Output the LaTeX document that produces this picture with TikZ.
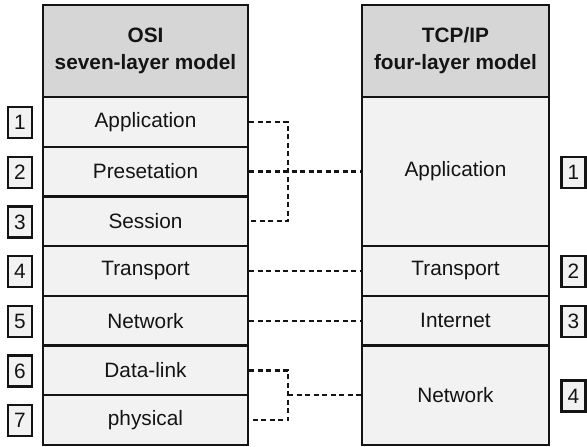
\documentclass[tikz,border=0pt]{standalone}
\usepackage{fontspec}
\setmainfont{Liberation Sans}
\definecolor{hdrgray}{RGB}{214,214,214}
\definecolor{rowfill}{RGB}{241,242,241}
\definecolor{inkc}{RGB}{20,20,20}
\begin{document}
\begin{tikzpicture}[x=1pt,y=-1pt,
  box/.style={draw=inkc, line width=2.3pt, fill=rowfill, inner sep=0pt,
    font=\fontsize{20.8}{27}\selectfont, text=inkc},
  lcol/.style={box, minimum width=205pt},
  rcol/.style={box, minimum width=187pt},
  hdr/.style={fill=hdrgray, font=\fontsize{20.8}{27}\selectfont\bfseries, align=center},
  numbox/.style={box, minimum width=24pt, minimum height=31pt},
  conn/.style={draw=inkc, line width=2.3pt, dash pattern=on 5pt off 3.5pt}
]
\useasboundingbox (0,0) rectangle (587,447);
% left column
\node[lcol, hdr, minimum height=92pt] (LH) at (145.5,51) {OSI\\seven-layer model};
\node[lcol, minimum height=49.7pt] (L1) at (145.5,121.85) {Application};
\node[lcol, minimum height=49.7pt] (L2) at (145.5,171.55) {Presetation};
\node[lcol, minimum height=49.7pt] (L3) at (145.5,221.25) {Session};
\node[lcol, minimum height=49.7pt] (L4) at (145.5,271.0) {Transport};
\node[lcol, minimum height=49.7pt] (L5) at (145.5,320.75) {Network};
\node[lcol, minimum height=49.7pt] (L6) at (145.5,370.45) {Data-link};
\node[lcol, minimum height=49.7pt] (L7) at (145.5,420.15) {physical};
% right column
\node[rcol, hdr, minimum height=92pt] (RH) at (455.5,51) {TCP/IP\\four-layer model};
\node[rcol, minimum height=149.1pt] (R1) at (455.5,171.55) {Application};
\node[rcol, minimum height=49.7pt] (R2) at (455.5,271.0) {Transport};
\node[rcol, minimum height=49.7pt] (R3) at (455.5,320.75) {Internet};
\node[rcol, minimum height=99.4pt] (R4) at (455.5,395.3) {Network};
% left numbers
\node[numbox] (n1) at (20,122.5) {1};
\node[numbox] (n2) at (20,172.2) {2};
\node[numbox] (n3) at (20,221.9) {3};
\node[numbox] (n4) at (20,271.6) {4};
\node[numbox] (n5) at (20,321.3) {5};
\node[numbox] (n6) at (20,371.0) {6};
\node[numbox] (n7) at (20,420.7) {7};
% right numbers
\node[numbox] (m1) at (573.5,172.2) {1};
\node[numbox] (m2) at (573.5,271.6) {2};
\node[numbox] (m3) at (573.5,321.3) {3};
\node[numbox] (m4) at (573.5,395.9) {4};
% connectors
\coordinate (b1) at (288,0);
\draw[conn] (L1.east) -- (L1.east -| b1) -- (L3.east -| b1) -- (L3.east);
\draw[conn] (L2.east) -- (R1.west);
\draw[conn] (L4.east) -- (R2.west);
\draw[conn] (L5.east) -- (R3.west);
\draw[conn] (L6.east) -- (L6.east -| b1) -- (L7.east -| b1) -- (L7.east);
\draw[conn] (R4.west -| b1) -- (R4.west);
\end{tikzpicture}
\end{document}
